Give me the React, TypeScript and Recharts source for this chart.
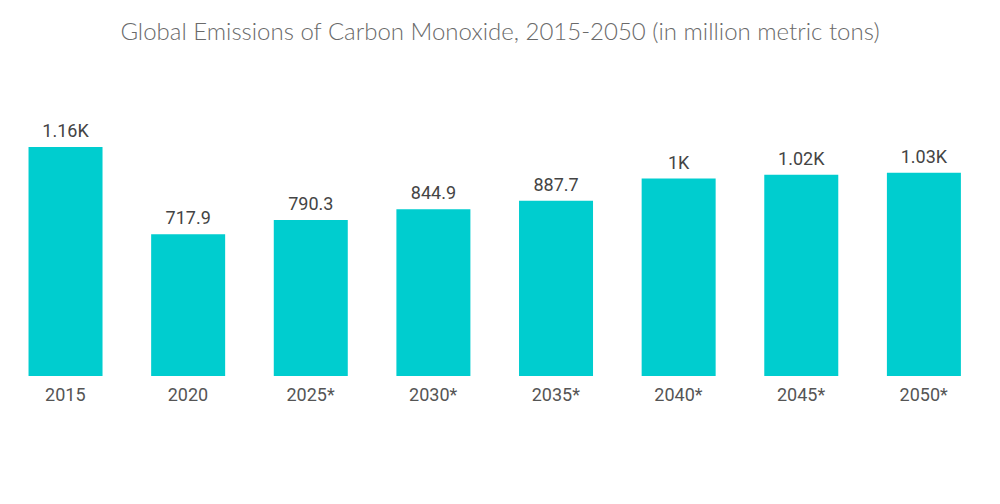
import React from "react"
import { BarChart, Bar, XAxis, YAxis, LabelList } from "recharts"

const years = ["2015", "2020", "2025*", "2030*", "2035*", "2040*", "2045*", "2050*"]
const emissions = [1160, 717.9, 790.3, 844.9, 887.7, 1000, 1020, 1030]
const valueLabels = ["1.16K", "717.9", "790.3", "844.9", "887.7", "1K", "1.02K", "1.03K"]

const data = years.map((year, i) => ({
  year,
  value: emissions[i],
  label: valueLabels[i],
}))

export default function App() {
  return (
    <div
      style={{
        position: "absolute",
        left: 0,
        top: 0,
        width: 1000,
        height: 504,
        background: "#fff",
        fontFamily: "Roboto, 'Noto Sans', sans-serif",
      }}
    >
      <div
        style={{
          position: "absolute",
          top: 16,
          left: 0,
          width: 1000,
          textAlign: "center",
          fontSize: 24,
          color: "#6a6a6a",
          fontFamily: "Lato, 'Open Sans', sans-serif",
          fontWeight: 300,
        }}
      >
        Global Emissions of Carbon Monoxide, 2015-2050 (in million metric tons)
      </div>
      <BarChart
        width={1000}
        height={504}
        data={data}
        margin={{ top: 147, right: 15, bottom: 88, left: 4 }}
        barCategoryGap="20%"
      >
        <XAxis
          dataKey="year"
          axisLine={false}
          tickLine={false}
          height={40}
          tick={{ fill: "#555", fontSize: 18 }}
          dy={4}
        />
        <YAxis hide domain={[0, 1160]} />
        <Bar dataKey="value" fill="#00CDCF" isAnimationActive={false}>
          <LabelList
            dataKey="label"
            position="top"
            offset={10}
            fill="#444"
            fontSize={18}
          />
        </Bar>
      </BarChart>
    </div>
  )
}
